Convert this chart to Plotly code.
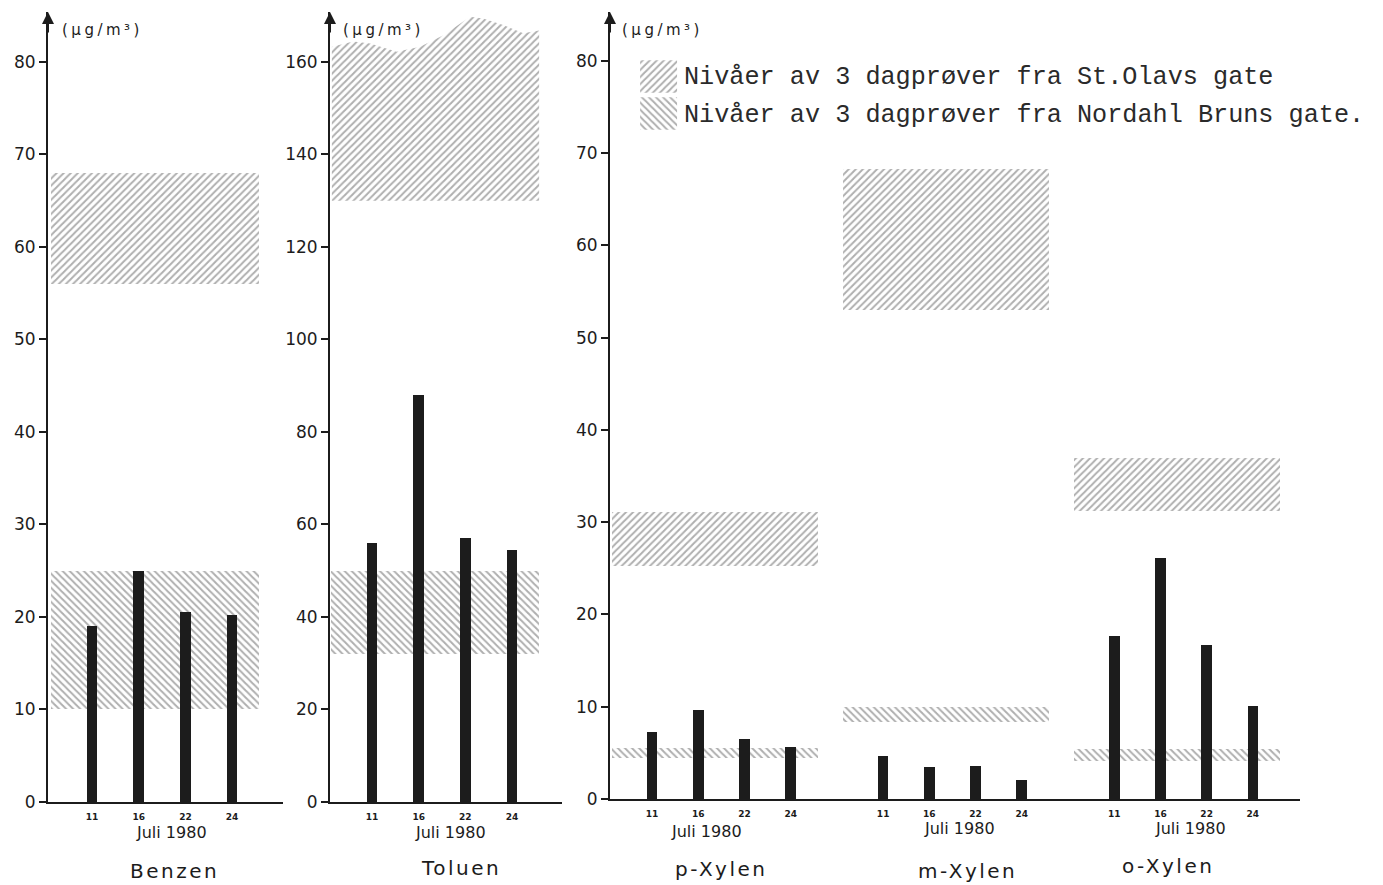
import plotly.graph_objects as go

# ---------------- data ----------------
days = ["11", "16", "22", "24"]
pos = [1, 2, 3, 4]

benzen = [19.0, 25.0, 20.5, 20.2]
toluen = [56.0, 88.0, 57.0, 54.5]
p_xylen = [7.3, 9.7, 6.5, 5.6]
m_xylen = [4.7, 3.5, 3.6, 2.1]
o_xylen = [17.7, 26.1, 16.7, 10.1]

# levels (low, high) of 3 day samples, St.Olavs gate
olav_benzen = [56.0, 68.0]
olav_toluen_low = 130.0
olav_toluen_top = [163.3, 164.4, 164.0, 162.2, 163.3, 165.8, 169.8, 169.4, 168.0, 166.2, 166.8]
olav_p = [25.3, 31.1]
olav_m = [53.0, 68.3]
olav_o = [31.2, 37.0]

# levels (low, high) of 3 day samples, Nordahl Bruns gate
nordahl_benzen = [10.0, 25.0]
nordahl_toluen = [32.0, 50.0]
nordahl_p = [4.4, 5.5]
nordahl_m = [8.3, 10.0]
nordahl_o = [4.1, 5.4]

names = ["Benzen", "Toluen", "p-Xylen", "m-Xylen", "o-Xylen"]
legend_texts = ["Nivåer av 3 dagprøver fra St.Olavs gate",
                "Nivåer av 3 dagprøver fra Nordahl Bruns gate."]

# ---------------- layout helpers ----------------
W, H = 1383, 885
def fx(p):
    return p / W
def fy(p):
    return 1 - p / H

INK = "#1c1c1c"
HATCH = "#606060"
SANS = "DejaVu Sans"

fig = go.Figure()

def pattern(shape):
    return dict(shape=shape, fgcolor=HATCH, bgcolor="white", size=5, solidity=0.4)

def band(ax, ay, x0, x1, lo, hi, shape):
    fig.add_trace(go.Bar(
        x=[(x0 + x1) / 2], y=[hi - lo], base=[lo], width=[x1 - x0],
        xaxis=ax, yaxis=ay,
        marker=dict(color="white", line=dict(width=0), pattern=pattern(shape)),
        showlegend=False, hoverinfo="skip"))

def bars(ax, ay, xs, vals):
    fig.add_trace(go.Bar(x=xs, y=vals, xaxis=ax, yaxis=ay, width=0.23,
                         marker=dict(color=INK, line=dict(width=0)),
                         showlegend=False))

BX0, BX1 = -0.87, 3.58  # band extent relative to first bar of a group

# Panel 1: Benzen
band("x", "y", 1 + BX0, 1 + BX1, olav_benzen[0], olav_benzen[1], "/")
band("x", "y", 1 + BX0, 1 + BX1, nordahl_benzen[0], nordahl_benzen[1], "\\")
bars("x", "y", pos, benzen)

# Panel 2: Toluen
tol_top_x = [0.14, 0.6, 0.96, 1.53, 2.03, 2.53, 3.1, 3.38, 3.81, 4.24, 4.58]
fig.add_trace(go.Scatter(
    x=tol_top_x + [tol_top_x[-1], tol_top_x[0], tol_top_x[0]],
    y=olav_toluen_top + [olav_toluen_low, olav_toluen_low, olav_toluen_top[0]],
    xaxis="x2", yaxis="y2", mode="lines", line=dict(width=0),
    fill="toself", fillcolor="white", fillpattern=pattern("/"),
    showlegend=False, hoverinfo="skip"))
band("x2", "y2", 1 + BX0, 1 + BX1, nordahl_toluen[0], nordahl_toluen[1], "\\")
bars("x2", "y2", pos, toluen)

# Panel 3: Xylenes
groups = [(1, olav_p, nordahl_p, p_xylen), (6, olav_m, nordahl_m, m_xylen),
          (11, olav_o, nordahl_o, o_xylen)]
x3_vals, x3_text = [], []
for start, ol, no, vals in groups:
    band("x3", "y3", start + BX0, start + BX1, ol[0], ol[1], "/")
    band("x3", "y3", start + BX0, start + BX1, no[0], no[1], "\\")
    xs = [start + p - 1 for p in pos]
    bars("x3", "y3", xs, vals)
    x3_vals += xs
    x3_text += days

# Legend swatches
for shape, lo, hi in [("/", 0.53, 0.97), ("\\", 0.03, 0.47)]:
    fig.add_trace(go.Scatter(
        x=[0.05, 0.93, 0.93, 0.05, 0.05], y=[lo, lo, hi, hi, lo],
        xaxis="x4", yaxis="y4", mode="lines", line=dict(width=0),
        fill="toself", fillcolor="white", fillpattern=pattern(shape),
        showlegend=False, hoverinfo="skip"))

def yax(dom_bottom_px, rng, dtick):
    return dict(domain=[fy(dom_bottom_px), fy(12)], range=rng, dtick=dtick,
                showline=True, linecolor=INK, linewidth=2, ticks="outside",
                ticklen=7, tickwidth=1.5, tickcolor=INK, showgrid=False,
                zeroline=False, automargin=False,
                tickfont=dict(family=SANS, size=17, color=INK), fixedrange=True)

def xax(dom, rng, tv, tt):
    return dict(domain=dom, range=rng, tickvals=tv,
                ticktext=["<b>%s</b>" % t for t in tt],
                showline=True, linecolor=INK, linewidth=2, ticks="outside",
                ticklen=5, tickcolor="rgba(0,0,0,0)", showgrid=False,
                zeroline=False, automargin=False,
                tickfont=dict(family=SANS, size=9, color=INK), fixedrange=True)

fig.update_layout(
    width=W, height=H, autosize=False,
    margin=dict(l=0, r=0, t=0, b=0, pad=0, autoexpand=False),
    paper_bgcolor="white", plot_bgcolor="white", showlegend=False,
    barmode="overlay", bargap=0,
    xaxis=xax([fx(48), fx(283)], [0.057, 5.09], pos, days),
    yaxis=dict(yax(802, [0, 85.4], 10), anchor="x"),
    xaxis2=dict(xax([fx(330), fx(562)], [0.1, 5.07], pos, days), anchor="y2"),
    yaxis2=dict(yax(802, [0, 170.8], 20), anchor="x2"),
    xaxis3=dict(xax([fx(610), fx(1300)], [0.09, 15.02], x3_vals, x3_text), anchor="y3"),
    yaxis3=dict(yax(799, [0, 85.3], 10), anchor="x3"),
    xaxis4=dict(domain=[fx(638), fx(680)], range=[0, 1], visible=False, anchor="y4",
                automargin=False, fixedrange=True),
    yaxis4=dict(domain=[fy(132), fy(58)], range=[0, 1], visible=False, anchor="x4",
                automargin=False, fixedrange=True),
)

def spaced(txt, px):
    return '<span style="letter-spacing:%spx">%s</span>' % (px, txt)

ann = []
# axis arrows and unit labels
for xr, yr, x0, ytop, lab_px in [("x", "y", 0.057, 85.4, 60), ("x2", "y2", 0.1, 170.8, 341),
                                 ("x3", "y3", 0.09, 85.3, 620)]:
    ann.append(dict(x=x0, y=ytop, xref=xr, yref=yr, ax=0, ay=22, axref="pixel",
                    ayref="pixel", showarrow=True, arrowhead=2, arrowsize=1.2,
                    arrowwidth=2, arrowcolor=INK, text=""))
    ann.append(dict(x=fx(lab_px), y=fy(30), xref="paper", yref="paper",
                    xanchor="left", yanchor="middle", showarrow=False,
                    text=spaced("(µg/m³)", 3.5), font=dict(family=SANS, size=15, color=INK)))

# "Juli 1980" and compound names
juli_pos = [(171, 832), (450, 832), (706, 831), (959, 828), (1190, 828)]
name_pos = [(174, 871), (461, 868), (721, 869), (967, 871), (1168, 866)]
for (jx, jy), (nx, ny), nm in zip(juli_pos, name_pos, names):
    ann.append(dict(x=fx(jx), y=fy(jy), xref="paper", yref="paper",
                    xanchor="center", yanchor="middle", showarrow=False,
                    text="Juli 1980", font=dict(family=SANS, size=16, color=INK)))
    ann.append(dict(x=fx(nx), y=fy(ny), xref="paper", yref="paper",
                    xanchor="center", yanchor="middle", showarrow=False,
                    text=spaced(nm, 2.5), font=dict(family=SANS, size=20, color=INK)))

# legend text
for txt, ly in zip(legend_texts, [77, 115]):
    ann.append(dict(x=fx(682), y=fy(ly), xref="paper", yref="paper",
                    xanchor="left", yanchor="middle", showarrow=False,
                    text=txt, font=dict(family="Liberation Mono", size=25.2, color="#2a2a2a")))

fig.update_layout(annotations=ann)
fig.write_html("out.html", post_script="document.body.style.margin='0px';",
               config={"displayModeBar": False})
